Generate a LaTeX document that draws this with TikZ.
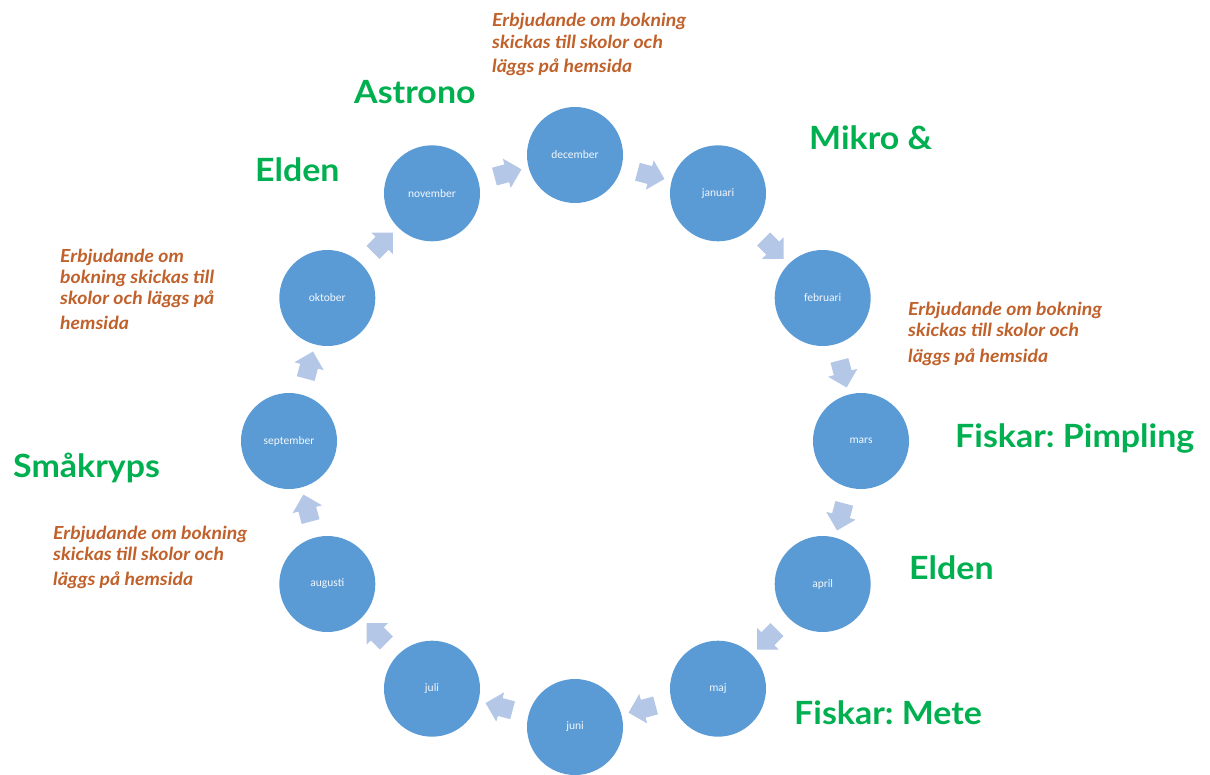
\documentclass[tikz,border=0pt]{standalone}
\usepackage{fontspec}
\setmainfont{Lato}
\newfontfamily\topicfont[FakeStretch=1.06]{Lato}
\newfontfamily\offerfont[FakeStretch=1.08]{Lato}
\newfontfamily\monthfont{Carlito}
\usetikzlibrary{shapes.arrows}
\definecolor{circblue}{HTML}{5B9BD5}
\definecolor{arrblue}{HTML}{B4C7E7}
\definecolor{grn}{HTML}{00B050}
\definecolor{org}{HTML}{C0602A}
\frenchspacing
\tikzset{
  month/.style={circle,fill=circblue,draw=none,minimum size=96pt,inner sep=0pt,
    font=\monthfont\fontsize{11.5}{13}\selectfont,text=white!92!circblue},
  blockarr/.style={single arrow,fill=arrblue,draw=none,inner sep=9pt,
    minimum height=28pt,single arrow head extend=6pt,
    single arrow tip angle=90,allow upside down},
  topic/.style={anchor=base west,inner sep=0pt,text=grn,font=\frenchspacing\topicfont\bfseries\fontsize{32}{38}\selectfont},
  offer/.style={anchor=base west,inner sep=0pt,text=org,font=\frenchspacing\offerfont\bfseries\itshape\fontsize{18}{21}\selectfont}
}
\begin{document}
\begin{tikzpicture}[x=1pt,y=-1pt]
\useasboundingbox (0,0) rectangle (1210,774);
\foreach \n/\t/\a in {dec/december/90,jan/januari/60,feb/februari/30,mar/mars/0,
  apr/april/-30,maj/maj/-60,jun/juni/-90,jul/juli/-120,aug/augusti/-150,
  sep/september/180,okt/oktober/150,nov/november/120}
  \node[month] (\n) at ({575+286*cos(\a)},{441-286*sin(\a)}) {\t};
\foreach \a/\b in {dec/jan,jan/feb,feb/mar,mar/apr,apr/maj,maj/jun,jun/jul,
  jul/aug,aug/sep,sep/okt,okt/nov,nov/dec}
  \path (\a) -- (\b) node[midway,sloped,blockarr] (arr-\a) {};
% green topic labels
\node[topic] (t1) at (354,103) {Astrono};
\node[topic] (t2) at (255,181) {Elden};
\node[topic] (t3) at (809,149) {Mikro \&};
\node[topic] (t4) at (955,447) {Fiskar: Pimpling};
\node[topic] (t5) at (909,579) {Elden};
\node[topic] (t6) at (794,724) {Fiskar: Mete};
\node[topic] (t7) at (13,477) {Småkryps};
% orange offer texts
\node[offer] (o1a) at (492,26) {Erbjudande om bokning};
\node[offer] (o1b) at (492,48) {skickas till skolor och};
\node[offer] (o1c) at (492,72) {läggs på hemsida};
\node[offer] (o2a) at (60,262) {Erbjudande om};
\node[offer] (o2b) at (60,283) {bokning skickas till};
\node[offer] (o2c) at (60,304) {skolor och läggs på};
\node[offer] (o2d) at (60,329) {hemsida};
\node[offer] (o3a) at (908,315) {Erbjudande om bokning};
\node[offer] (o3b) at (908,336) {skickas till skolor och};
\node[offer] (o3c) at (908,362) {läggs på hemsida};
\node[offer] (o4a) at (53,539) {Erbjudande om bokning};
\node[offer] (o4b) at (53,560) {skickas till skolor och};
\node[offer] (o4c) at (53,585) {läggs på hemsida};
\end{tikzpicture}
\end{document}
